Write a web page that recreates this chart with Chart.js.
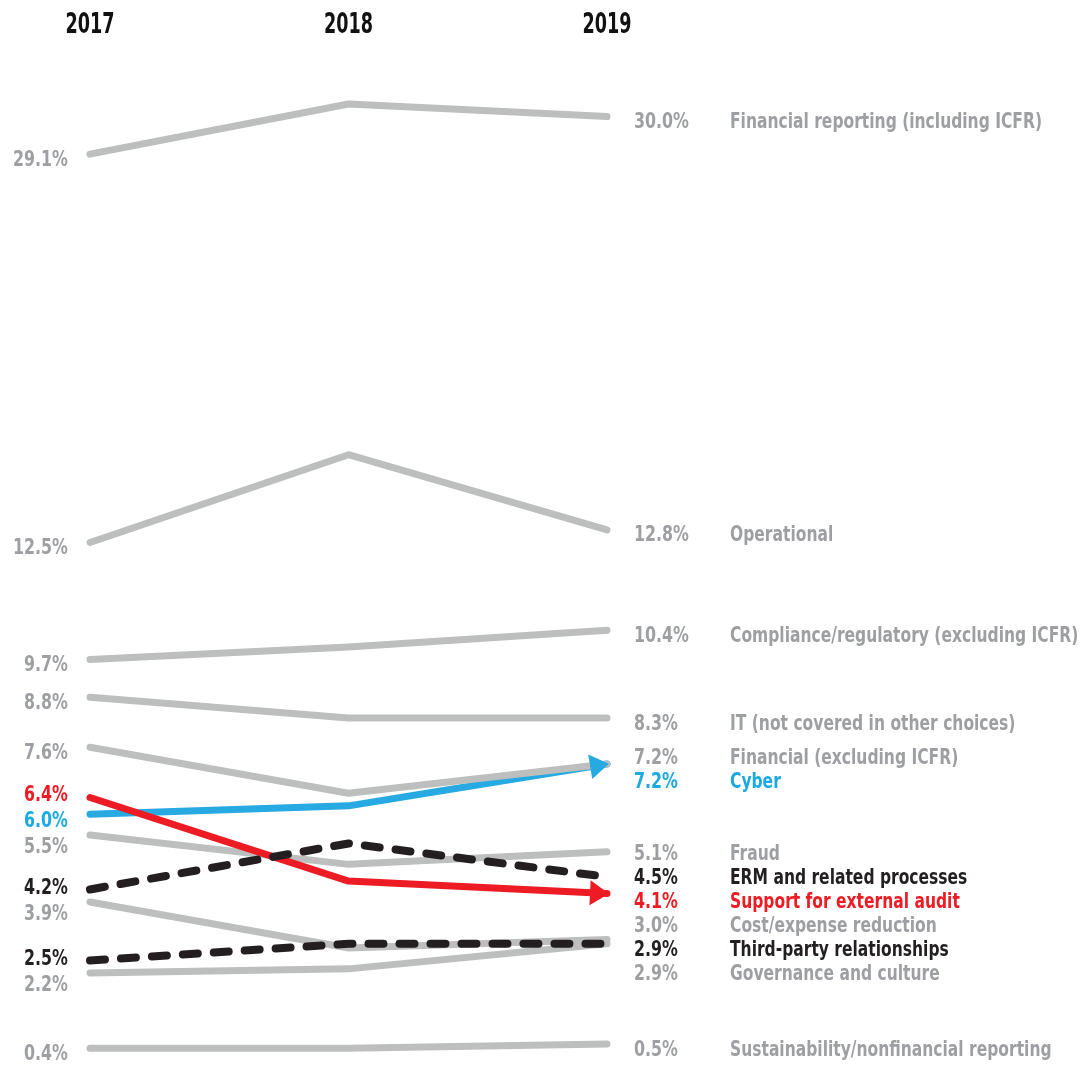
<!DOCTYPE html>
<html>
<head>
<meta charset="utf-8">
<script src="https://cdn.jsdelivr.net/npm/chart.js@4.4.1/dist/chart.umd.min.js"></script>
<style>
html,body{margin:0;padding:0;background:#ffffff;}
#wrap{width:1080px;height:1069px;position:relative;}
</style>
</head>
<body>
<div id="wrap"><canvas id="c" width="1080" height="1069"></canvas></div>
<script>
// ---------------- DATA ----------------
const categories = ['2017', '2018', '2019'];

const financialReporting = [29.1, 30.3, 30.0];
const operational        = [12.5, 14.6, 12.8];
const compliance         = [9.7, 10.0, 10.4];
const itOther            = [8.8, 8.3, 8.3];
const financialExcl      = [7.6, 6.5, 7.2];
const cyber              = [6.0, 6.2, 7.2];
const fraud              = [5.5, 4.8, 5.1];
const erm                = [4.2, 5.3, 4.5];
const externalAudit      = [6.4, 4.4, 4.1];
const costReduction      = [3.9, 2.8, 3.0];
const thirdParty         = [2.5, 2.9, 2.9];
const governance         = [2.2, 2.3, 2.9];
const sustainability     = [0.4, 0.4, 0.5];

const seriesNames = [
  'Financial reporting (including ICFR)',
  'Operational',
  'Compliance/regulatory (excluding ICFR)',
  'IT (not covered in other choices)',
  'Financial (excluding ICFR)',
  'Cyber',
  'Fraud',
  'ERM and related processes',
  'Support for external audit',
  'Cost/expense reduction',
  'Third-party relationships',
  'Governance and culture',
  'Sustainability/nonfinancial reporting'
];
const seriesValues = [
  financialReporting, operational, compliance, itOther, financialExcl, cyber,
  fraud, erm, externalAudit, costReduction, thirdParty, governance, sustainability
];
const seriesKinds = [
  'gray', 'gray', 'gray', 'gray', 'gray', 'blue',
  'gray', 'dash', 'red', 'gray', 'dash', 'gray', 'gray'
];

// ---------------- STYLES ----------------
const STYLE = {
  gray: { line: '#bdbfbe', text: '#9d9fa2', width: 7, dash: [], order: 4, arrow: false },
  blue: { line: '#27a9e1', text: '#1ba9e1', width: 7, dash: [], order: 5, arrow: true },
  red:  { line: '#ed1c24', text: '#ed1c24', width: 7, dash: [], order: 3, arrow: true },
  dash: { line: '#231f20', text: '#231f20', width: 8, dash: [15, 16], order: 2, arrow: false }
};
const FONT_STACK = "'Liberation Sans Narrow','Arial Narrow','DejaVu Sans Condensed',Roboto,sans-serif";

// ---------------- BROKEN-AXIS SCALE ----------------
const BREAK_LO = 16, BREAK_HI = 26, BREAK_SHIFT = 7.31;
function fwd(v) {
  if (v === null || v === undefined || isNaN(v)) return v;
  if (v <= BREAK_LO) return v;
  if (v >= BREAK_HI) return v - BREAK_SHIFT;
  const k = (BREAK_HI - BREAK_SHIFT - BREAK_LO) / (BREAK_HI - BREAK_LO);
  return BREAK_LO + (v - BREAK_LO) * k;
}
function inv(u) {
  const k = (BREAK_HI - BREAK_SHIFT - BREAK_LO) / (BREAK_HI - BREAK_LO);
  const uHi = BREAK_HI - BREAK_SHIFT;
  if (u <= BREAK_LO) return u;
  if (u >= uHi) return u + BREAK_SHIFT;
  return BREAK_LO + (u - BREAK_LO) / k;
}
class BrokenScale extends Chart.LinearScale {
  getPixelForValue(value) { return super.getPixelForValue(fwd(value)); }
  getValueForPixel(pixel) { return inv(super.getValueForPixel(pixel)); }
}
BrokenScale.id = 'broken';
BrokenScale.defaults = Chart.LinearScale.defaults;
Chart.register(BrokenScale);

// ---------------- HELPERS ----------------
function drawText(ctx, text, x, y, sx, align, color, font) {
  ctx.save();
  ctx.font = font;
  ctx.fillStyle = color;
  ctx.textAlign = align;
  ctx.textBaseline = 'alphabetic';
  ctx.translate(x, y);
  ctx.scale(sx, 1);
  ctx.fillText(text, 0, 0);
  ctx.restore();
}
function fitScale(ctx, font, ref, target) {
  ctx.save(); ctx.font = font;
  const w = ctx.measureText(ref).width;
  ctx.restore();
  return target / w;
}
function spread(items, gap) {
  items.sort((a, b) => (a.want - b.want) || (a.idx - b.idx));
  let clusters = items.map(it => ({ list: [it], top: it.want }));
  let changed = true;
  while (changed) {
    changed = false;
    for (let i = 0; i < clusters.length - 1; i++) {
      const a = clusters[i], b = clusters[i + 1];
      if (a.top + a.list.length * gap > b.top + 0.01) {
        const list = a.list.concat(b.list);
        const top = list.reduce((s, it, j) => s + it.want - j * gap, 0) / list.length;
        clusters.splice(i, 2, { list, top });
        changed = true;
        break;
      }
    }
  }
  clusters.forEach(c => c.list.forEach((it, j) => { it.y = c.top + j * gap; }));
  return items;
}

// ---------------- PLUGIN: arrows, labels, years ----------------
const annotate = {
  id: 'annotate',
  afterDatasetsDraw(chart) {
    const ctx = chart.ctx;
    const xs = chart.scales.x;

    // arrowheads
    chart.data.datasets.forEach((ds, i) => {
      const st = STYLE[seriesKinds[i]];
      if (!st.arrow) return;
      const pts = chart.getDatasetMeta(i).data;
      const p1 = pts[pts.length - 2], p2 = pts[pts.length - 1];
      const dx = p2.x - p1.x, dy = p2.y - p1.y;
      const len = Math.hypot(dx, dy);
      const ux = dx / len, uy = dy / len;
      const tipX = p2.x + ux * 2, tipY = p2.y + uy * 2;
      const bx = tipX - ux * 19, by = tipY - uy * 19;
      const hw = 12.5;
      ctx.save();
      ctx.fillStyle = st.line;
      ctx.beginPath();
      ctx.moveTo(tipX, tipY);
      ctx.lineTo(bx - uy * hw, by + ux * hw);
      ctx.lineTo(bx + uy * hw, by - ux * hw);
      ctx.closePath();
      ctx.fill();
      ctx.restore();
    });

    const labelFont = 'bold 21px ' + FONT_STACK;
    const yearFont = 'bold 29px ' + FONT_STACK;
    const sxName = fitScale(ctx, labelFont, seriesNames[0], 312);
    const sxPct = fitScale(ctx, labelFont, '30.0%', 55);
    const sxYear = fitScale(ctx, yearFont, '2017', 49);

    // left & right label stacks
    const left = [], right = [];
    chart.data.datasets.forEach((ds, i) => {
      const pts = chart.getDatasetMeta(i).data;
      left.push({ idx: i, want: pts[0].y + 4, v: seriesValues[i][0] });
      right.push({ idx: i, want: pts[pts.length - 1].y + 4, v: seriesValues[i][seriesValues[i].length - 1] });
    });
    spread(left, 26);
    spread(right, 24);
    const leftX = xs.getPixelForValue(0) - 22;
    const rightPctX = xs.getPixelForValue(categories.length - 1) + 27;
    const rightNameX = rightPctX + 96;
    left.forEach(it => {
      const col = STYLE[seriesKinds[it.idx]].text;
      drawText(ctx, it.v.toFixed(1) + '%', leftX, it.y + 7.5, sxPct, 'right', col, labelFont);
    });
    right.forEach(it => {
      const col = STYLE[seriesKinds[it.idx]].text;
      drawText(ctx, it.v.toFixed(1) + '%', rightPctX, it.y + 7.5, sxPct, 'left', col, labelFont);
      drawText(ctx, seriesNames[it.idx], rightNameX, it.y + 7.5, sxName, 'left', col, labelFont);
    });

    // year headers
    categories.forEach((c, i) => {
      drawText(ctx, c, xs.getPixelForValue(i), 33, sxYear, 'center', '#111111', yearFont);
    });
  }
};

// ---------------- CHART ----------------
const datasets = seriesValues.map((vals, i) => {
  const st = STYLE[seriesKinds[i]];
  return {
    label: seriesNames[i],
    data: vals,
    borderColor: st.line,
    backgroundColor: st.line,
    borderWidth: st.width,
    borderDash: st.dash,
    borderCapStyle: 'round',
    borderJoinStyle: 'round',
    pointRadius: 0,
    pointHoverRadius: 0,
    tension: 0,
    fill: false,
    clip: false,
    order: st.order
  };
});

new Chart(document.getElementById('c'), {
  type: 'line',
  data: { labels: categories, datasets },
  options: {
    responsive: false,
    animation: false,
    events: [],
    layout: { padding: { top: 60, bottom: 4, left: 90, right: 473 } },
    plugins: { legend: { display: false }, tooltip: { enabled: false }, title: { display: false } },
    scales: {
      x: { type: 'category', display: false, offset: false },
      y: { type: 'broken', display: false, min: 0, max: 24.043 }
    }
  },
  plugins: [annotate]
});
</script>
</body>
</html>
